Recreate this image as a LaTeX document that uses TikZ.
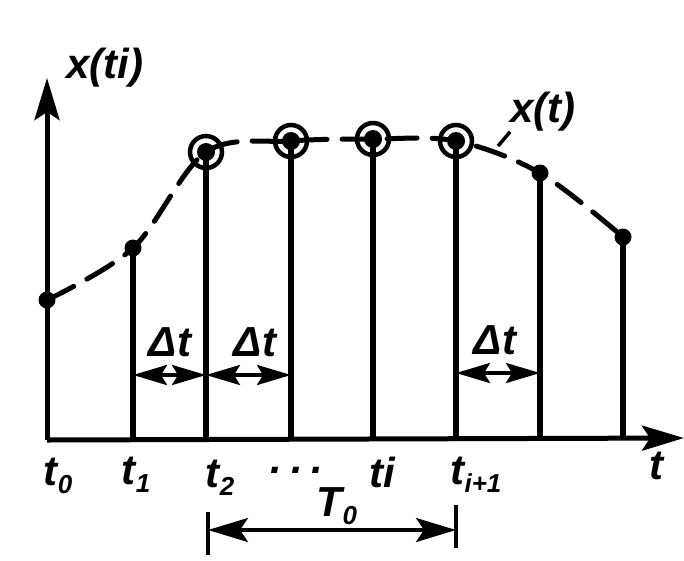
\documentclass[tikz,border=0pt]{standalone}
\usepackage{fontspec}
\setmainfont{Liberation Sans}
\usetikzlibrary{arrows.meta}
\tikzset{
  lbl/.style={font=\fontsize{42}{44}\selectfont\bfseries\itshape, inner sep=0pt},
  stem/.style={line width=6.5pt},
  axisline/.style={line width=5pt, -{Stealth[length=42pt,width=25pt,inset=8pt]}},
  curve/.style={line width=5pt, dash pattern=on 30pt off 15pt, line cap=round},
  dt/.style={line width=3.5pt, {Stealth[length=34pt,width=20pt,inset=6pt]}-{Stealth[length=34pt,width=20pt,inset=6pt]}},
  period/.style={line width=3.5pt, {Stealth[length=40pt,width=24pt,inset=8pt]}-{Stealth[length=40pt,width=24pt,inset=8pt]}},
  bar/.style={line width=4.5pt},
  ring/.style={line width=4.5pt},
}
\newcommand{\sbs}[1]{\raisebox{-0.35ex}{\fontsize{26}{26}\selectfont #1}}
\begin{document}
\begin{tikzpicture}[x=1pt,y=-1pt]
	\useasboundingbox (0,0) rectangle (684,560);
	% sample instants and values
	\foreach \x/\y [count=\k from 0] in {47/300,133/248,206/152,291/141,373/139,456/141,540/173,623/237}{
			\coordinate (b\k) at (\x,440);
			\coordinate (p\k) at (\x,\y);
		}
	\coordinate (O) at (47,440);
	\coordinate (ytop) at (47,78);
	\coordinate (xend) at (684,438);
	% axes
	\draw [axisline] (O) -- (ytop);
	\draw [axisline] (O) -- (xend);
	% samples
	\foreach \k in {1,...,7}{
			\draw [stem] (b\k) -- (p\k);
		}
	\draw [curve] plot [smooth, tension=0.55] coordinates {(p0) (p1) (p2) (p3) (p4) (p5) (p6) (p7)};
	\foreach \k in {0,1,6,7}{
			\fill (p\k) circle (8.5pt);
		}
	\foreach \k in {2,...,5}{
			\draw [ring] (p\k) circle (16pt);
			\fill (p\k) circle (9pt);
		}
	% spacing arrows
	\coordinate (d1) at (133,375);
	\coordinate (d2) at (206,375);
	\coordinate (d3) at (291,375);
	\coordinate (d5) at (456,373);
	\coordinate (d6) at (540,373);
	\draw [dt] (d1) -- (d2);
	\draw [dt] (d2) -- (d3);
	\draw [dt] (d5) -- (d6);
	\node [lbl] (dta) at (170,342) {Δt};
	\node [lbl] (dtb) at (255,342) {Δt};
	\node [lbl] (dtc) at (495,340) {Δt};
	% period
	\coordinate (Ta) at (208,530);
	\coordinate (Tb) at (456,530);
	\draw [bar] (208,512) -- (208,555);
	\draw [bar] (456,505) -- (456,548);
	\draw [period] (Ta) -- (Tb);
	\node [lbl] (T) at (337,506) {T\sbs{0}};
	% labels
	\node [lbl] (yl) at (105,68) {x(ti)};
	\node [lbl] (xl) at (543,112) {x(t)};
	\coordinate (lead) at (498,146);
	\draw [line width=3.5pt] (lead) -- (xl.south west);
	\node [lbl] (l0) at (58,476) {t\sbs{0}};
	\node [lbl] (l1) at (136,475) {t\sbs{1}};
	\node [lbl] (l2) at (220,478) {t\sbs{2}};
	\node [lbl] (ld) at (297,470) {.\hspace{9pt}.\hspace{9pt}.};
	\node [lbl] (li) at (382,472) {ti};
	\node [lbl] (lii) at (476,475) {t\sbs{i+1}};
	\node [lbl] (lt) at (656,466) {t};
\end{tikzpicture}
\end{document}
